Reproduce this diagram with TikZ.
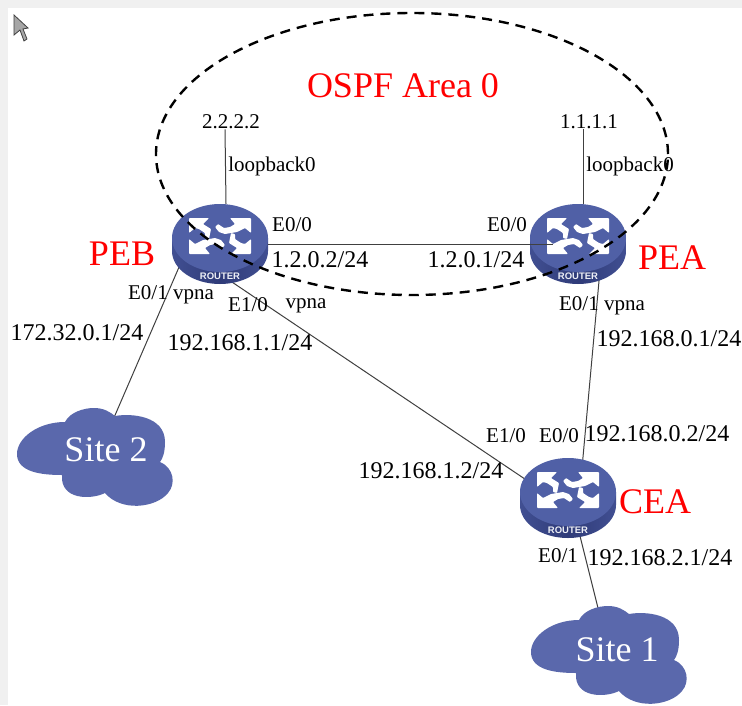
\documentclass[tikz,border=0pt]{standalone}
\usepackage{fontspec}
\usetikzlibrary{shapes.geometric}
\setmainfont{Liberation Serif}
\newfontfamily\routerfont{Liberation Sans}
\definecolor{rtop}{HTML}{5060A6}
\definecolor{rside}{HTML}{414F92}
\definecolor{rdark}{HTML}{2F3B78}
\definecolor{cloudc}{HTML}{5A68AC}
\definecolor{bgstrip}{HTML}{F0F0F0}
\tikzset{
  x=1pt,y=-1pt,
  small/.style={font=\fontsize{21}{21}\selectfont,inner sep=0pt,text=black},
  addr/.style={font=\fontsize{24}{24}\selectfont,inner sep=0pt,text=black},
  redlabel/.style={font=\fontsize{36}{36}\selectfont,inner sep=0pt,text=red},
  sitelabel/.style={font=\fontsize{36}{36}\selectfont,inner sep=0pt,text=white},
  routernode/.style={ellipse,minimum width=96pt,minimum height=80pt,inner sep=0pt},
  link/.style={draw=black!75,line width=1pt},
  area/.style={draw=black,line width=2.4pt,dash pattern=on 10pt off 7pt},
  rarrow/.style={fill=white,draw=none,rounded corners=0.8pt},
  router/.pic={
    \shade[left color=rside,right color=rside,middle color=rdark] (-48,-6) -- (-48,7) arc[x radius=48,y radius=33,start angle=180,end angle=0] -- (48,-6) -- cycle;
    \fill[rtop] (0,-6) ellipse[x radius=48,y radius=34];
    \foreach \sx/\sy in {1/1,-1/-1}{
      \begin{scope}[yshift=8pt,xscale=\sx,yscale=\sy]
      \fill[rarrow] (-31,-18) -- (-11,-18) -- (-17,-12) -- (-9,-7) -- (-10,-2) -- (-11,3) -- (-15,2) -- (-15,-3) -- (-21,-7) -- (-25,-8) -- (-31,-3) -- cycle;
      \fill[rarrow] (31,-18) -- (31,-3) -- (25,-8) -- (17,-4) -- (5,-2) -- (-1,-4) -- (-5,-9) -- (-2,-12) -- (4,-8) -- (10,-9) -- (15,-12) -- (10,-18) -- cycle;
      \end{scope}
    }
    \node[font=\routerfont\bfseries\fontsize{9.5}{9.5}\selectfont,text=white!90!rtop,inner sep=0pt] at (0,32) {ROUTER};
  },
  cloud/.pic={
    \fill[cloudc] (-89,4) .. controls (-89,-12) and (-68,-28) .. (-41,-28)
      .. controls (-36,-38) and (-22,-42) .. (-12,-42)
      .. controls (-2,-42) and (4,-38) .. (9,-34)
      .. controls (26,-37) and (59,-34) .. (59,-8)
      .. controls (59,2) and (57,8) .. (54,12)
      .. controls (68,18) and (70,34) .. (62,43)
      .. controls (50,58) and (15,62) .. (-1,43)
      .. controls (-15,50) and (-46,50) .. (-44,25)
      .. controls (-65,25) and (-89,22) .. (-89,4) -- cycle;
  }
}
\begin{document}
\begin{tikzpicture}
\useasboundingbox (0,0) rectangle (742,705);
\fill[bgstrip] (0,0) rectangle (742,705);
\fill[white] (8,8) rectangle (742,705);
% cursor
\draw[fill=black!35,draw=black!75,line width=0.8pt] (14,15) -- (14,35) -- (20,30) -- (24,41) -- (27,39) -- (23,29) -- (28,28) -- cycle;
% nodes
\node[routernode] (peb) at (220,244) {};
\node[routernode] (pea) at (578,244) {};
\node[routernode] (cea) at (568,498) {};
\node[small] (lo2) at (231,122) {2.2.2.2};
\node[small] (lo1) at (589,122) {1.1.1.1};
\coordinate (site2c) at (106,450);
\coordinate (site1c) at (617,650);
\coordinate (cloud1c) at (620,648);
% connectors behind routers
\draw[link] ([xshift=-6]lo2.south) -- ([shift={(6,0)}]peb.north);
\draw[link] ([xshift=-6]lo1.south) -- ([shift={(5,0)}]pea.north);
\draw[link] ([shift={(-31,0)}]peb.center) -- ([shift={(-6,0)}]site2c);
\draw[link] ([shift={(0,30)}]peb.center) -- ([shift={(0,10)}]cea.center);
\draw[link] ([shift={(22,26)}]pea.center) -- ([shift={(12,-8)}]cea.center);
\draw[link] ([shift={(10,30)}]cea.center) -- ([shift={(-16,-30)}]site1c);
% shapes
\pic at (site2c) {cloud};
\pic at (cloud1c) {cloud};
\pic at (peb) {router};
\pic at (pea) {router};
\pic at (cea) {router};
\draw[link] (peb.east) -- ([xshift=-25]pea.center);
\node[area,ellipse,minimum width=512pt,minimum height=282pt,inner sep=0pt] (ospf) at (412,154) {};
% labels
\node[redlabel] (areal) at (403,86) {OSPF Area 0};
\node[redlabel] at (122,254) {PEB};
\node[redlabel] at (672,258) {PEA};
\node[redlabel] at (655,502) {CEA};
\node[sitelabel] at (site2c) {Site 2};
\node[sitelabel] at (site1c) {Site 1};
\node[small] at (272,166) {loopback0};
\node[small] at (630,166) {loopback0};
\node[small] at (292,225) {E0/0};
\node[small] at (507,225) {E0/0};
\node[addr] at (320,260) {1.2.0.2/24};
\node[addr] at (476,260) {1.2.0.1/24};
\node[small] at (171,295) {E0/1 vpna};
\node[small] at (248,305) {E1/0};
\node[small] at (306,306) {vpna};
\node[addr] at (77,333) {172.32.0.1/24};
\node[addr] at (240,343) {192.168.1.1/24};
\node[small] at (602,306) {E0/1 vpna};
\node[addr] at (669,339) {192.168.0.1/24};
\node[small] at (506,436) {E1/0};
\node[small] at (559,436) {E0/0};
\node[addr] at (657,434) {192.168.0.2/24};
\node[addr] at (431,471) {192.168.1.2/24};
\node[small] at (558,556) {E0/1};
\node[addr] at (660,558) {192.168.2.1/24};
\end{tikzpicture}
\end{document}
